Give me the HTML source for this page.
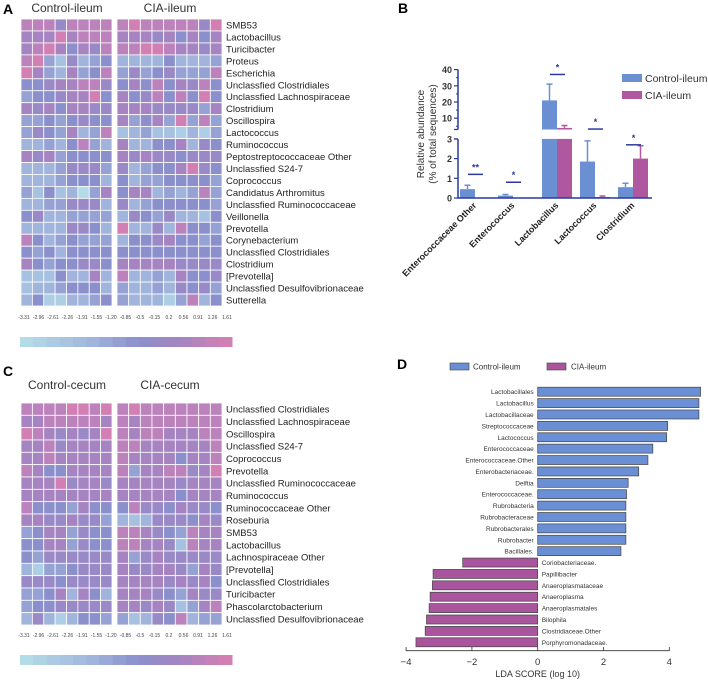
<!DOCTYPE html>
<html><head><meta charset="utf-8">
<style>
html,body{margin:0;padding:0;background:#fff;}
svg{display:block;font-family:"Liberation Sans",sans-serif;}
</style></head>
<body>
<svg id="fig" width="708" height="681" viewBox="0 0 708 681" xmlns="http://www.w3.org/2000/svg">
<text x="3" y="14" font-size="14" font-weight="bold">A</text>
<text x="398" y="13" font-size="14" font-weight="bold">B</text>
<text x="3" y="376" font-size="14" font-weight="bold">C</text>
<text x="397" y="369" font-size="14" font-weight="bold">D</text>
<g id="pa"></g>
<g id="pc"></g>
<g id="pb"></g>
<g id="pd"></g>
</svg>
<script>
// ---------- Panel A data ----------
const aTaxa = ["SMB53","Lactobacillus","Turicibacter","Proteus","Escherichia","Unclassfied Clostridiales","Unclassfied Lachnospiraceae","Clostridium","Oscillospira","Lactococcus","Ruminococcus","Peptostreptococcaceae Other","Unclassfied S24-7","Coprococcus","Candidatus Arthromitus","Unclassfied Ruminococcaceae","Veillonella","Prevotella","Corynebacterium","Unclassfied Clostridiales","Clostridium","[Prevotella]","Unclassfied Desulfovibrionaceae","Sutterella"];
const aCtrl = ["88868888","77797888","78975768","89426345","97437458","55677886","45567795","76757766","44545655","46547348","33435843","76745555","33346664","33345553","42523047","33446663","56334444","33336653","85345444","54535555","75455665","22253373","23345553","35113345"];
const aCia = ["898888869","777675757","889987767","333353334","464564448","575857685","756858595","777666647","745749484","234221314","733557365","767665666","634557965","534455554","577343484","634555554","365463325","933638554","355675545","555555555","777776666","833437556","433436564","433314835"];
// ---------- Panel C data ----------
const cTaxa = ["Unclassfied Clostridiales","Unclassfied Lachnospiraceae","Oscillospira","Unclassfied S24-7","Coprococcus","Prevotella","Unclassfied Ruminococcaceae","Ruminococcus","Ruminococcaceae Other","Roseburia","SMB53","Lactobacillus","Lachnospiraceae Other","[Prevotella]","Unclassfied Clostridiales","Turicibacter","Phascolarctobacterium","Unclassfied Desulfovibrionaceae"];
const cCtrl = ["88889989","77888887","98767679","77867777","77877777","87557777","77796776","77777777","85554755","77667664","45774655","55774655","54666666","31445666","66656666","44573753","45566666","36313554"];
const cCia = ["898888888","878888888","878877788","887777778","877775778","847788679","777776777","777775777","586657665","323666576","887654877","887762877","746766666","766776476","777767675","777654766","776762478","423658344"];
const cbTicks = ["-3.31","-2.96","-2.61","-2.26","-1.91","-1.55","-1.20","-0.85","-0.5","-0.15","0.2","0.56","0.91","1.26","1.61"];

// ---------- Panel B data ----------
const bCats = ["Enterococcaceae Other","Enterococcus","Lactobacillus","Lactococcus","Clostridium"];
const bCtrl = [0.45,0.12,21,1.85,0.55];
const bCtrlErr = [0.65,0.18,31,2.9,0.75];
const bCia = [0,0,4,0.05,2.0];
const bCiaErr = [0,0,5.5,0.1,2.65];
const bSig = ["**","*","*","*","*"];
const bSigLevel = [1.2,0.8,37,3.3,2.7];
const bLowTicks = [0,1,2,3];
const bHighTicks = [10,20,30,40];

// ---------- Panel D data ----------
const dTaxa = ["Lactobacillales","Lactobacillus","Lactobacillaceae","Streptococcaceae","Lactococcus","Enterococcaceae","Enterococcaceae.Other","Enterobacteriaceae.","Delftia","Enterococcaceae.","Rubrobacteria","Rubrobacteraceae","Rubrobacterales","Rubrobacter","Bacillales.","Coriobacteriaceae.","Papillibacter","Anaeroplasmataceae","Anaeroplasma","Anaeroplasmatales","Bilophila","Clostridiaceae.Other","Porphyromonadaceae."];
const dScores = [4.95,4.9,4.9,3.95,3.92,3.5,3.35,3.07,2.75,2.7,2.68,2.68,2.68,2.68,2.53,-2.28,-3.18,-3.2,-3.27,-3.3,-3.38,-3.42,-3.7];
const dTicks = [-4,-2,0,2,4];

const NS="http://www.w3.org/2000/svg";
function mk(parent,tag,attrs,text){const e=document.createElementNS(NS,tag);for(const k in attrs)e.setAttribute(k,attrs[k]);if(text!==undefined)e.textContent=text;parent.appendChild(e);return e;}
const stops=[[0,[180,219,232]],[3,[160,180,220]],[5,[139,144,204]],[7,[166,132,194]],[9,[210,127,179]]];
function lvlColor(v){for(let i=0;i<stops.length-1;i++){const a=stops[i],b=stops[i+1];if(v<=b[0]){const t=(v-a[0])/(b[0]-a[0]);const c=a[1].map((x,j)=>Math.round(x+(b[1][j]-x)*t));return `rgb(${c[0]},${c[1]},${c[2]})`;}}return "rgb(210,127,179)";}

function heatmap(g,taxa,ctrl,cia,top,bottom,h1,h2,hy,cbLabY,cbY){
  const n=taxa.length,rh=(bottom-top)/n;
  const blocks=[[ctrl,21,112,'control'],[cia,117,222,'cia']];
  blocks.forEach(([rows,x0,x1,grp])=>{
    const ncol=rows[0].length,cw=(x1-x0)/ncol;
    rows.forEach((r,ri)=>{for(let ci=0;ci<ncol;ci++){
      const c=mk(g,'rect',{x:x0+ci*cw,y:top+ri*rh,width:cw,height:rh,fill:lvlColor(+r[ci]),stroke:'#fff','stroke-width':0.8});
      
      
    }});
  });
  taxa.forEach((t,i)=>{const e=mk(g,'text',{x:226,y:top+i*rh+rh/2+3.5,'font-size':9.5,fill:'#222'},t);
    
    });
  let e=mk(g,'text',{x:67,y:hy,'font-size':12,'text-anchor':'middle',fill:'#333'},h1);
  
  
  e=mk(g,'text',{x:170,y:hy,'font-size':12,'text-anchor':'middle',fill:'#333'},h2);
  
  
  const nb=16,bw=(232-20)/nb;
  for(let i=0;i<nb;i++){const r=mk(g,'rect',{x:20+i*bw,y:cbY,width:bw+0.5,height:10,fill:lvlColor(i*9/(nb-1))});
    
    }
  cbTicks.forEach((t,i)=>{const tx=mk(g,'text',{x:24+i*(203/(cbTicks.length-1)),y:cbLabY,'font-size':5,'text-anchor':'middle',fill:'#444'},t);
    
    });
}
heatmap(document.getElementById('pa'),aTaxa,aCtrl,aCia,19,306,"Control-ileum","CIA-ileum",12,319,337);
heatmap(document.getElementById('pc'),cTaxa,cCtrl,cCia,403,625,"Control-cecum","CIA-cecum",389,637,655);

// ---------- Panel B ----------
(function(){
  const g=document.getElementById('pb');const ax='#2b3a9e';
  const x0=458,x1=652,centers=[475,513,557,595,633],bw=15;
  const yLow=v=>198-v*19.7, yHigh=v=>134.4-v*1.62;
  const yv=v=>v<=3?yLow(v):yHigh(v);
  bCats.forEach((c,i)=>{
    [[bCtrl,bCtrlErr,-bw,'#6a8fd3','control'],[bCia,bCiaErr,0,'#b0589f','cia']].forEach(([vals,errs,off,col,grp])=>{
      const v=vals[i];if(v<=0)return;const x=centers[i]+off;
      if(v<=3){const r=mk(g,'rect',{x:x,y:yLow(v),width:bw,height:198-yLow(v),fill:col});
        }
      else{const r=mk(g,'rect',{x:x,y:yLow(3),width:bw,height:198-yLow(3),fill:col});
        
        const r2=mk(g,'rect',{x:x,y:yHigh(v),width:bw,height:129.5-yHigh(v),fill:col});
        }
      const ev=errs[i];if(ev>v){const cx=x+bw/2;
        const l=mk(g,'path',{d:`M${cx},${yv(v)}V${yv(ev)}M${cx-3},${yv(ev)}H${cx+3}`,stroke:col,'stroke-width':1.5,fill:'none'});
        }
    });
    const sy=yv(bSigLevel[i]);
    const s=mk(g,'path',{d:`M${centers[i]-7},${sy}H${centers[i]+8}`,stroke:ax,'stroke-width':1.5});
    
    const st=mk(g,'text',{x:centers[i]+0.5,y:sy-4,'font-size':9,'text-anchor':'middle',fill:ax,'font-weight':'bold'},bSig[i]);
    
    const lb=mk(g,'text',{x:centers[i]+2,y:206,'font-size':9,'font-weight':'bold','text-anchor':'end',fill:'#222',transform:`rotate(-45 ${centers[i]+2} 206)`},c);
    
  });
  let a=mk(g,'path',{d:`M${x0},69.6V129.5M${x0},139V198H${x1}`,stroke:ax,'stroke-width':1.5,fill:'none'});
  
  bLowTicks.forEach(t=>{mk(g,'path',{d:`M${x0-4},${yLow(t)}H${x0}`,stroke:ax,'stroke-width':1.2});
    const e=mk(g,'text',{x:x0-6,y:yLow(t)+3.5,'font-size':9,'font-weight':'bold','text-anchor':'end',fill:'#333'},t);
    });
  mk(g,'path',{d:`M${x0-4},129.5H${x0}M${x0-4},139H${x0}`,stroke:ax,'stroke-width':1.2});
  bHighTicks.forEach(t=>{mk(g,'path',{d:`M${x0-4},${yHigh(t)}H${x0}`,stroke:ax,'stroke-width':1.2});
    mk(g,'path',{d:`M${x0-2},${yHigh(t-5)}H${x0}`,stroke:ax,'stroke-width':1});
    const e=mk(g,'text',{x:x0-6,y:yHigh(t)+3.5,'font-size':9,'font-weight':'bold','text-anchor':'end',fill:'#333'},t);
    });
  let e=mk(g,'text',{x:0,y:0,'font-size':10,'text-anchor':'middle',fill:'#333',transform:'translate(424,134) rotate(-90)'},'Relative abundance');
  
  e=mk(g,'text',{x:0,y:0,'font-size':10,'text-anchor':'middle',fill:'#333',transform:'translate(436,134) rotate(-90)'},'(% of total sequences)');
  
  let r=mk(g,'rect',{x:622,y:74,width:20,height:8,fill:'#6a8fd3'});
  e=mk(g,'text',{x:645,y:82,'font-size':10.5,fill:'#333'},'Control-ileum');
  r=mk(g,'rect',{x:622,y:91,width:20,height:8,fill:'#b0589f'});
  e=mk(g,'text',{x:645,y:99,'font-size':10.5,fill:'#333'},'CIA-ileum');
})();

// ---------- Panel D ----------
(function(){
  const g=document.getElementById('pd');
  const xs=v=>537.7+v*32.9, rowY=i=>391.7+i*11.39, bh=9;
  dScores.forEach((v,i)=>{
    const y=rowY(i),x=Math.min(xs(0),xs(v)),w=Math.abs(xs(v)-xs(0));
    const r=mk(g,'rect',{x:x,y:y-bh/2,width:w,height:bh,fill:v>0?'#6b8fd4':'#a8559d',stroke:'#444','stroke-width':0.7});
    
    const t=mk(g,'text',{x:v>0?xs(0)-4:xs(0)+4,y:y+2.5,'font-size':6.5,'text-anchor':v>0?'end':'start',fill:'#333'},dTaxa[i]);
    
  });
  const a=mk(g,'path',{d:`M${xs(-4)},650.7H${xs(4)}`,stroke:'#333','stroke-width':0.8});
  
  dTicks.forEach(t=>{mk(g,'path',{d:`M${xs(t)},647V651`,stroke:'#333','stroke-width':0.8});
    const e=mk(g,'text',{x:xs(t),y:665,'font-size':9.5,'text-anchor':'middle',fill:'#333'},t<0?'\u2212'+(-t):t);
    });
  let e=mk(g,'text',{x:xs(0),y:677,'font-size':9,'text-anchor':'middle',fill:'#333'},'LDA SCORE (log 10)');
  
  let r=mk(g,'rect',{x:450,y:363,width:19,height:7,fill:'#6b8fd4',stroke:'#444','stroke-width':0.6});
  
  e=mk(g,'text',{x:473,y:369.5,'font-size':8,fill:'#333'},'Control-ileum');
  r=mk(g,'rect',{x:547,y:363,width:19,height:7,fill:'#a8559d',stroke:'#444','stroke-width':0.6});
  
  e=mk(g,'text',{x:571,y:369.5,'font-size':8,fill:'#333'},'CIA-ileum');
})();
</script>
</body></html>
